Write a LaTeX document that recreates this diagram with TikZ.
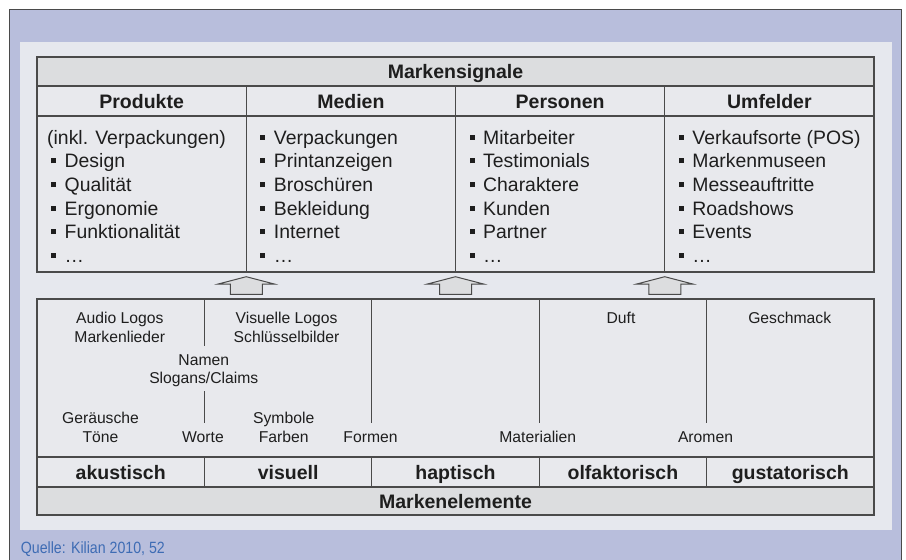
\documentclass[tikz,border=0pt]{standalone}
\usepackage{fontspec}
\setmainfont{Liberation Sans}
\newfontfamily\quellefont[FakeStretch=0.87]{Liberation Sans}
\usetikzlibrary{calc}
\definecolor{frameblue}{HTML}{B8BEDC}
\definecolor{panel}{HTML}{E6E8EE}
\definecolor{headgray}{HTML}{DCDDDF}
\definecolor{cellgray}{HTML}{E8E9ED}
\definecolor{linegray}{HTML}{4A4A4A}
\definecolor{textdark}{HTML}{1E1E1E}
\definecolor{quelleblue}{HTML}{3E6CB4}
\newcommand{\sq}{\rule[4.5pt]{5pt}{5pt}\hspace{8.5pt}}
\tikzset{
  grid/.style={draw=linegray, line width=1.3pt},
  head/.style={font=\fontsize{19.5}{22}\selectfont\bfseries, text=textdark, inner sep=0pt, anchor=base},
  item/.style={font=\fontsize{19.4}{23}\selectfont, text=textdark, inner sep=0pt, anchor=base west},
  elem/.style={font=\fontsize{15.7}{19}\selectfont, text=textdark, inner sep=0pt, anchor=base},
  blockarrow/.style={draw=linegray, line width=1pt, fill=headgray, line join=miter},
}
\begin{document}
\begin{tikzpicture}[x=1pt,y=-1pt]
\useasboundingbox (0,0) rectangle (906,560);
\fill[frameblue] (9.5,9) rectangle (901,560);
\draw[linegray, line width=1pt] (9.5,560) -- (9.5,9) -- (901,9) -- (901,560);
\fill[panel] (20,42) rectangle (892,530);

% Markensignale
\filldraw[grid, fill=headgray] (37,57) rectangle (874,86);
\filldraw[grid, fill=cellgray] (37,86) rectangle (874,116);
\filldraw[grid, fill=cellgray] (37,116) rectangle (874,272);
\foreach \x in {246.25,455.5,664.75} \draw[grid] (\x,86) -- (\x,272);
\node[head] (signale) at (455.5,78.5) {Markensignale};
\foreach \t [count=\i from 0] in {Produkte,Medien,Personen,Umfelder}
  \node[head] (kopf-\i) at (141.6+209.25*\i,108) {\t};

\node[item] (prod-0) at (47,144.3) {(inkl. Verpackungen)};
\foreach \t [count=\i] in {Design,Qualität,Ergonomie,Funktionalität,\dots}
  \node[item] (prod-\i) at (51,144.3+23.6*\i) {\sq\t};
\foreach \t [count=\i from 0] in {Verpackungen,Printanzeigen,Broschüren,Bekleidung,Internet,\dots}
  \node[item] (med-\i) at (260.25,144.3+23.6*\i) {\sq\t};
\foreach \t [count=\i from 0] in {Mitarbeiter,Testimonials,Charaktere,Kunden,Partner,\dots}
  \node[item] (pers-\i) at (469.5,144.3+23.6*\i) {\sq\t};
\foreach \t [count=\i from 0] in {Verkaufsorte (POS),Markenmuseen,Messeauftritte,Roadshows,Events,\dots}
  \node[item] (umf-\i) at (678.75,144.3+23.6*\i) {\sq\t};

% Pfeile
\foreach \c [count=\i] in {246.25,455.5,664.75}
  \filldraw[blockarrow] (\c,276.7) -- (\c+28,284) -- (\c+16,284) -- (\c+16,294.3)
    -- (\c-16,294.3) -- (\c-16,284) -- (\c-28,284) -- cycle;

% Markenelemente
\filldraw[grid, fill=cellgray] (37,299) rectangle (874,457);
\filldraw[grid, fill=cellgray] (37,457) rectangle (874,487);
\filldraw[grid, fill=headgray] (37,487) rectangle (874,515);
\foreach \x in {204.4,371.8,539.2,706.6} \draw[grid] (\x,457) -- (\x,487);
\draw[grid] (204.4,299) -- (204.4,346);
\draw[grid] (204.4,391) -- (204.4,423);
\foreach \x in {371.8,539.2,706.6} \draw[grid] (\x,299) -- (\x,423);
\foreach \t [count=\i from 0] in {akustisch,visuell,haptisch,olfaktorisch,gustatorisch}
  \node[head] (sinn-\i) at (120.7+167.4*\i,479) {\t};
\node[head] (elemente) at (455.5,508) {Markenelemente};

\foreach \x/\y/\t [count=\i] in {
  119.8/323.3/Audio Logos, 119.8/342.7/Markenlieder,
  286.5/323.3/Visuelle Logos, 286.5/342.7/Schlüsselbilder,
  203.8/365/Namen, 203.8/383.3/Slogans\slash Claims,
  100.5/423.3/Geräusche, 100.5/442.3/Töne,
  203/442.3/Worte, 283.7/423.3/Symbole, 283.7/442.3/Farben,
  370.5/442.3/Formen, 537.8/442.3/Materialien, 705.5/442.3/Aromen,
  621/323.3/Duft, 789.7/323.3/Geschmack}
  \node[elem] (el-\i) at (\x,\y) {\t};

\node[anchor=base west, inner sep=0pt, font=\quellefont\fontsize{16.3}{19}\selectfont, text=quelleblue]
  (quelle) at (20.7,553.3) {Quelle: Kilian 2010, 52};
\end{tikzpicture}
\end{document}
